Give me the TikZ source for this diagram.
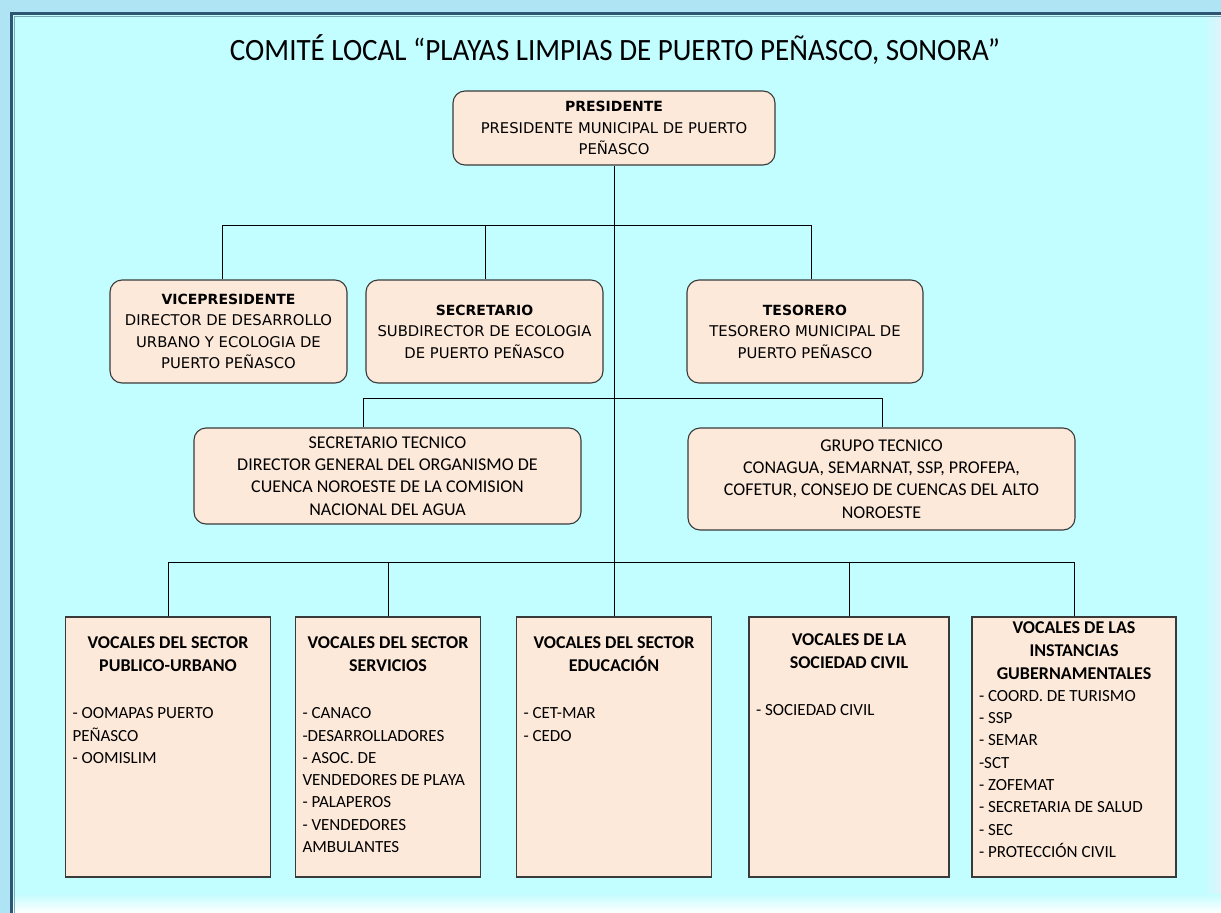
\documentclass[tikz,border=0pt]{standalone}
\usepackage{fontspec}
\usepackage{graphicx}
\setmainfont{Carlito}
\newfontfamily\topfont{DejaVu Sans}
\newfontfamily\lowfont{Carlito}
\definecolor{outerbg}{HTML}{AEE4F4}
\definecolor{innerbg}{HTML}{C2FDFF}
\definecolor{framec}{HTML}{2F5574}
\definecolor{boxfill}{HTML}{FDE9DA}
\definecolor{boxline}{HTML}{3A3A3A}
\tikzset{
  rbox/.style={draw=boxline, fill=boxfill, line width=1.1pt, rounded corners=12pt, align=center, inner sep=0pt},
  vbox/.style={draw=boxline, fill=boxfill, line width=1.1pt, inner xsep=7pt, inner ysep=0pt},
  conn/.style={draw=black, line width=1pt},
  topf/.style={font={\topfont\fontsize{14.8}{21.5}\selectfont}},
  midf/.style={font={\lowfont\fontsize{18}{22.4}\selectfont}}
}
\newcommand{\hdr}[1]{{\centering\bfseries\fontsize{18}{22.6}\selectfont #1\par}}
\newcommand{\itm}[1]{\mbox{#1}\par}
\newcommand{\tb}[1]{{\bfseries\fontsize{14}{21.5}\selectfont #1}}
\begin{document}
\begin{tikzpicture}[x=1pt,y=-1pt]
\useasboundingbox (0,0) rectangle (1221,913);
% background
\fill[outerbg] (0,0) rectangle (1221,913);
\fill[innerbg] (10,12) rectangle (1221,913);
\shade[top color=innerbg, bottom color=white] (13,893) rectangle (1221,913);
\shade[left color=innerbg, right color=outerbg!40!white] (1203,15) rectangle (1221,893);
\draw[framec, line width=3pt] (11.5,913) -- (11.5,13.5) -- (1221,13.5);
\draw[framec!50!innerbg, line width=1.5pt] (14.5,913) -- (14.5,16.5) -- (1221,16.5);

% title
\node (title) at (615,50) {\resizebox{770pt}{\height}{\fontsize{31}{31}\selectfont COMITÉ LOCAL “PLAYAS LIMPIAS DE PUERTO PEÑASCO, SONORA”}};

% top boxes
\node[rbox, topf, minimum width=322pt, minimum height=74pt] (pres) at (614,128)
  {\tb{PRESIDENTE}\\PRESIDENTE MUNICIPAL DE PUERTO\\PEÑASCO};
\node[rbox, topf, minimum width=237pt, minimum height=103pt] (vp) at (228.5,331.5)
  {\tb{VICEPRESIDENTE}\\DIRECTOR DE DESARROLLO\\URBANO Y ECOLOGIA DE\\PUERTO PEÑASCO};
\node[rbox, topf, minimum width=237pt, minimum height=103pt] (sec) at (484.5,331.5)
  {\tb{SECRETARIO}\\SUBDIRECTOR DE ECOLOGIA\\DE PUERTO PEÑASCO};
\node[rbox, topf, minimum width=236pt, minimum height=103pt] (tes) at (805,331.5)
  {\tb{TESORERO}\\TESORERO MUNICIPAL DE\\PUERTO PEÑASCO};
\node[rbox, midf, minimum width=387pt, minimum height=96pt] (st) at (387.5,476)
  {SECRETARIO TECNICO\\DIRECTOR GENERAL DEL ORGANISMO DE\\CUENCA NOROESTE DE LA COMISION\\NACIONAL DEL AGUA};
\node[rbox, midf, minimum width=387pt, minimum height=102pt] (gt) at (881.5,479)
  {GRUPO TECNICO\\CONAGUA, SEMARNAT, SSP, PROFEPA,\\COFETUR, CONSEJO DE CUENCAS DEL ALTO\\NOROESTE};

% bottom boxes
\node[vbox] (v1) at (168,747) {\parbox[c][260pt][t]{191pt}{\lowfont\fontsize{17}{22.3}\selectfont
  \vspace*{20pt}\hdr{VOCALES DEL SECTOR\\PUBLICO-URBANO}\vspace{25pt}
  \itm{- OOMAPAS PUERTO}\itm{PEÑASCO}\itm{- OOMISLIM}}};
\node[vbox] (v2) at (388,747) {\parbox[c][260pt][t]{171pt}{\lowfont\fontsize{17}{22.3}\selectfont
  \vspace*{20pt}\hdr{VOCALES DEL SECTOR\\SERVICIOS}\vspace{25pt}
  \itm{- CANACO}\itm{-DESARROLLADORES}\itm{- ASOC. DE}\itm{VENDEDORES DE PLAYA}\itm{- PALAPEROS}\itm{- VENDEDORES}\itm{AMBULANTES}}};
\node[vbox] (v3) at (614,747) {\parbox[c][260pt][t]{181pt}{\lowfont\fontsize{17}{22.3}\selectfont
  \vspace*{20pt}\hdr{VOCALES DEL SECTOR\\EDUCACIÓN}\vspace{25pt}
  \itm{- CET-MAR}\itm{- CEDO}}};
\node[vbox] (v4) at (849,747) {\parbox[c][260pt][t]{186pt}{\lowfont\fontsize{17}{22.3}\selectfont
  \vspace*{17pt}\hdr{VOCALES DE LA\\SOCIEDAD CIVIL}\vspace{25pt}
  \itm{- SOCIEDAD CIVIL}}};
\node[vbox] (v5) at (1074,747) {\parbox[c][260pt][t]{190pt}{\lowfont\fontsize{17}{22.3}\selectfont
  \vspace*{5pt}\hdr{VOCALES DE LAS\\INSTANCIAS\\GUBERNAMENTALES}
  \itm{- COORD. DE TURISMO}\itm{- SSP}\itm{- SEMAR}\itm{-SCT}\itm{- ZOFEMAT}\itm{- SECRETARIA DE SALUD}\itm{- SEC}\itm{- PROTECCIÓN CIVIL}}};

% connector coordinates
\coordinate (b1l) at (222,225);
\coordinate (b1m) at (485,225);
\coordinate (b1r) at (811,225);
\coordinate (b2l) at (363,398);
\coordinate (b2r) at (882,398);
\coordinate (b3l) at (168,562);
\coordinate (b3b) at (388,562);
\coordinate (b3c) at (614,562);
\coordinate (b3d) at (849,562);
\coordinate (b3r) at (1074,562);

\draw[conn] (pres.south) -- (b3c);
\draw[conn] (b1l) -- (b1r);
\draw[conn] (b1l) -- (b1l |- vp.north);
\draw[conn] (b1m) -- (b1m |- sec.north);
\draw[conn] (b1r) -- (b1r |- tes.north);
\draw[conn] (b2l) -- (b2r);
\draw[conn] (b2l) -- (b2l |- st.north);
\draw[conn] (b2r) -- (b2r |- gt.north);
\draw[conn] (b3l) -- (b3r);
\draw[conn] (b3l) -- (v1.north);
\draw[conn] (b3b) -- (v2.north);
\draw[conn] (b3c) -- (v3.north);
\draw[conn] (b3d) -- (v4.north);
\draw[conn] (b3r) -- (v5.north);
\end{tikzpicture}
\end{document}
